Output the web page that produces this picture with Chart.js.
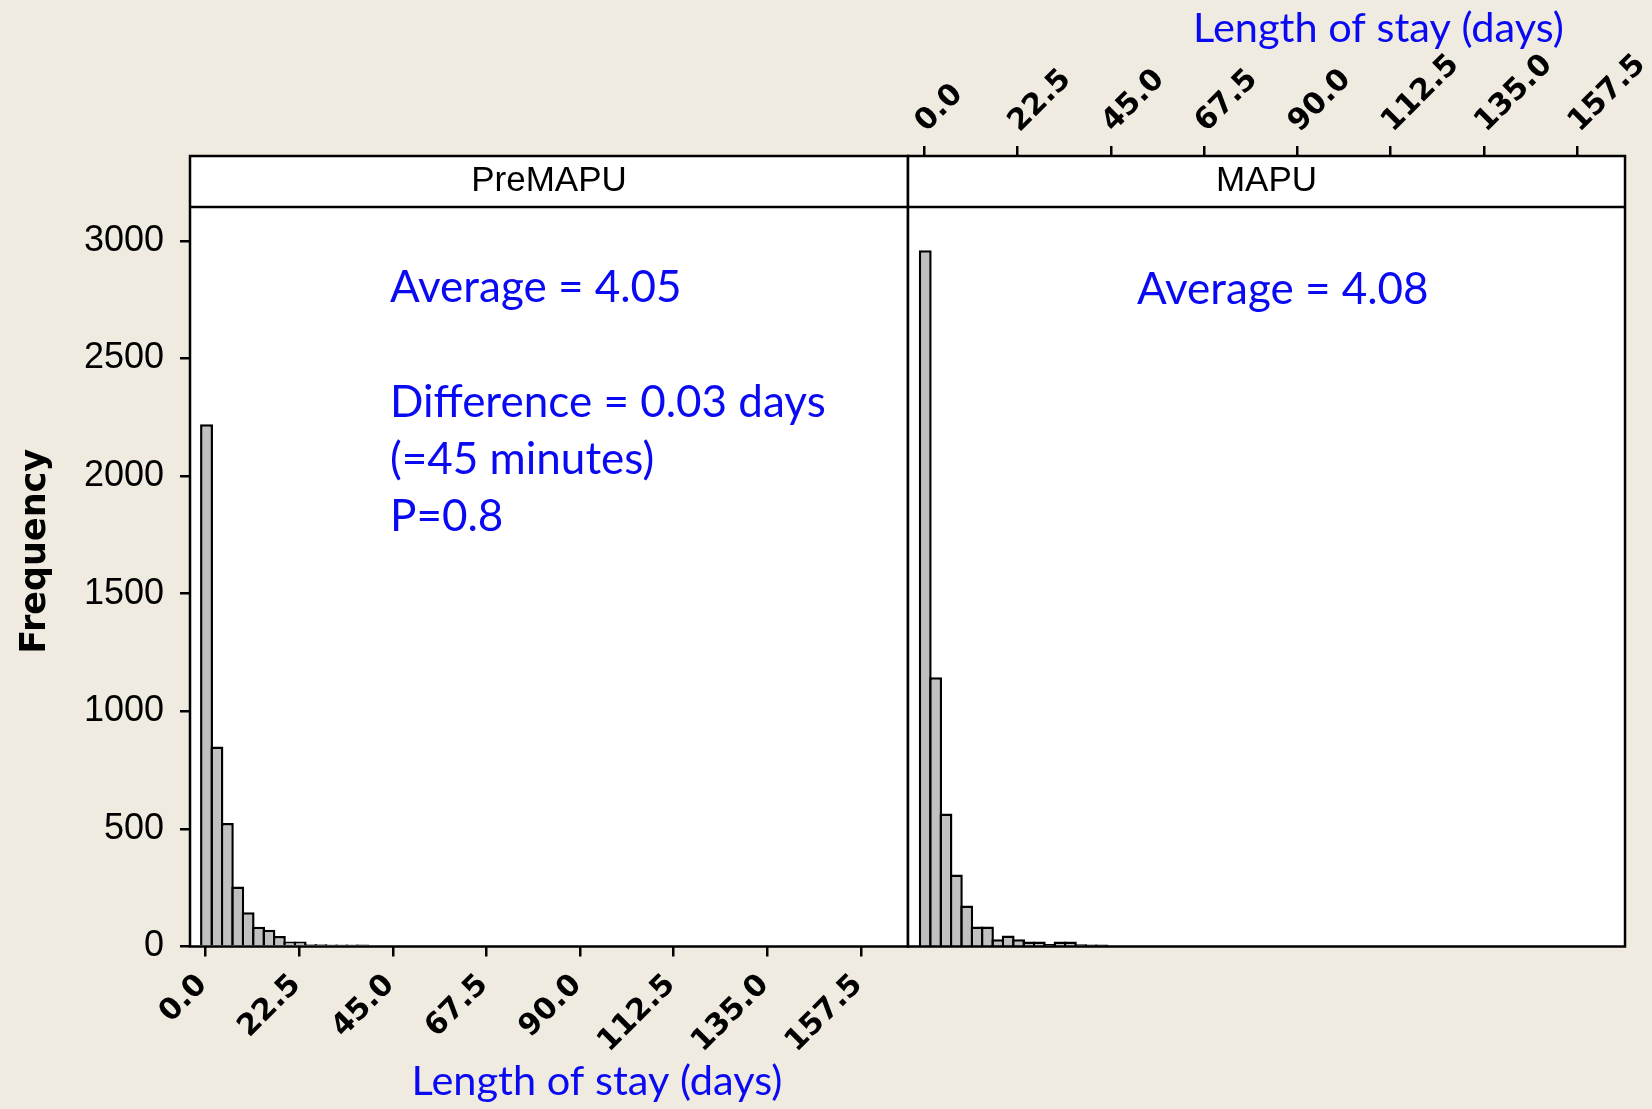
<!DOCTYPE html>
<html><head><meta charset="utf-8">
<script src="https://cdn.jsdelivr.net/npm/chart.js@4.4.1/dist/chart.umd.min.js"></script>
<style>
html,body{margin:0;padding:0;background:#EFEBE1;}
#wrap{position:relative;width:1652px;height:1109px;overflow:hidden;background:#EFEBE1;}
canvas{position:absolute;top:0;}
#cL{left:0;} #cR{left:880px;}
</style></head><body>
<div id="wrap"><canvas id="cL" width="910" height="1109"></canvas><canvas id="cR" width="772" height="1109"></canvas></div>
<script>
// ---- data ----
const panelNames = ['PreMAPU', 'MAPU'];
const preBinMids = [0.25, 2.75, 5.25, 7.75, 10.25, 12.75, 15.25, 17.75, 20.25, 22.75, 25.25, 27.75, 30.25, 32.75, 35.25, 37.75];
const preCounts  = [2220, 850, 525, 255, 146, 84, 71, 45, 21, 21, 10, 10, 9, 9, 9, 8];
const mapuBinMids = [0.25, 2.75, 5.25, 7.75, 10.25, 12.75, 15.25, 17.75, 20.25, 22.75, 25.25, 27.75, 30.25, 32.75, 35.25, 37.75, 40.25, 42.75];
const mapuCounts  = [2960, 1145, 565, 306, 174, 85, 85, 31, 47, 31, 21, 21, 11, 21, 21, 10, 9, 9];
const xTickValues = [0, 22.5, 45, 67.5, 90, 112.5, 135, 157.5];
const yTickValues = [0, 500, 1000, 1500, 2000, 2500, 3000];
const xAxisTitle = 'Length of stay (days)';
const yAxisTitle = 'Frequency';
const preNotes = ['Average = 4.05', '', 'Difference = 0.03 days', '(=45 minutes)', 'P=0.8'];
const mapuNotes = ['Average = 4.08'];

// ---- style ----
const BLUE = '#0a0af2';
const LINE = 2.5;
const Y_MAX = 3361;

const panelPlugin = {
  id: 'panel',
  beforeDraw(chart) {
    const {ctx, chartArea: a} = chart;
    ctx.save();
    ctx.fillStyle = '#ffffff';
    ctx.fillRect(a.left, a.top, a.right - a.left, a.bottom - a.top);
    ctx.restore();
  },
  afterDraw(chart, args, o) {
    const {ctx, chartArea: a} = chart;
    ctx.save();
    ctx.strokeStyle = '#000'; ctx.lineWidth = LINE;
    ctx.strokeRect(a.left, a.top, a.right - a.left, a.bottom - a.top);
    const hb = a.top + 51;
    ctx.beginPath(); ctx.moveTo(a.left, hb); ctx.lineTo(a.right, hb); ctx.stroke();
    ctx.fillStyle = '#000';
    ctx.font = '35px "Liberation Sans"';
    ctx.textAlign = 'center'; ctx.textBaseline = 'middle';
    ctx.fillText(o.name, (a.left + a.right) / 2, a.top + 25);
    ctx.fillStyle = BLUE;
    ctx.textAlign = 'left'; ctx.textBaseline = 'alphabetic';
    ctx.font = '44px Lato';
    o.notes.forEach((t, i) => ctx.fillText(t, o.noteX, o.noteY + i * 57.3));
    ctx.textAlign = 'center';
    ctx.font = '41.5px Lato';
    ctx.fillText(o.title, o.titleX, o.titleY);
    ctx.restore();
  }
};

const tickFont = {family: 'DejaVu Sans', weight: 'bold', size: 30};
const gridOpts = {drawOnChartArea: false, drawTicks: true, tickLength: 10, color: '#000', lineWidth: LINE, offset: false};

function barDataset(mids, counts) {
  return {
    data: mids.map((x, i) => ({x: x, y: counts[i]})),
    backgroundColor: '#C0C0C0',
    borderColor: '#000',
    borderWidth: 2.5,
    barPercentage: 1,
    categoryPercentage: 1.24,
    borderSkipped: 'start'
  };
}

const setXTicks = s => { s.ticks = xTickValues.map(v => ({value: v})); };
const setYTicks = s => { s.ticks = yTickValues.map(v => ({value: v})); };

new Chart(document.getElementById('cL'), {
  type: 'bar',
  data: {datasets: [barDataset(preBinMids, preCounts)]},
  plugins: [panelPlugin],
  options: {
    responsive: false, animation: false, devicePixelRatio: 1,
    layout: {padding: {left: 0, top: 156, right: 2, bottom: 0}},
    plugins: {
      legend: {display: false}, tooltip: {enabled: false},
      panel: {name: panelNames[0], notes: preNotes, noteX: 390, noteY: 302,
              title: xAxisTitle, titleX: 597, titleY: 1095}
    },
    scales: {
      x: {
        type: 'linear', position: 'bottom', min: -3.72, max: 168.8, offset: false,
        afterBuildTicks: setXTicks,
        afterFit: s => { s.height = 162.5; },
        ticks: {autoSkip: false, minRotation: 45, maxRotation: 45, padding: 11, labelOffset: -3, color: '#000', font: tickFont,
                callback: v => Number(v).toFixed(1)},
        grid: gridOpts, border: {display: false}
      },
      y: {
        min: 0, max: Y_MAX,
        afterBuildTicks: setYTicks,
        afterFit: s => { s.width = 190; },
        ticks: {padding: 16, color: '#000', font: {family: 'Liberation Sans', size: 36},
                callback: v => String(v)},
        grid: gridOpts, border: {display: false},
        title: {display: true, text: yAxisTitle, color: '#000',
                font: {family: 'DejaVu Sans', weight: 'bold', size: 35}, padding: {top: 15, bottom: 0}}
      }
    }
  }
});

new Chart(document.getElementById('cR'), {
  type: 'bar',
  data: {datasets: [barDataset(mapuBinMids, mapuCounts)]},
  plugins: [panelPlugin],
  options: {
    responsive: false, animation: false, devicePixelRatio: 1,
    layout: {padding: {left: 28, top: 0, right: 23.5, bottom: 162.5}},
    plugins: {
      legend: {display: false}, tooltip: {enabled: false},
      panel: {name: panelNames[1], notes: mapuNotes, noteX: 1137 - 880, noteY: 304,
              title: xAxisTitle, titleX: 1378.5 - 880, titleY: 42}
    },
    scales: {
      x: {
        type: 'linear', position: 'top', min: -3.91, max: 169.0, offset: false,
        afterBuildTicks: setXTicks,
        afterFit: s => { s.height = 156; },
        ticks: {autoSkip: false, minRotation: 45, maxRotation: 45, padding: 6, labelOffset: 22, color: '#000', font: tickFont,
                callback: v => Number(v).toFixed(1)},
        grid: gridOpts, border: {display: false}
      },
      y: {display: false, min: 0, max: Y_MAX}
    }
  }
});
</script>
</body></html>
